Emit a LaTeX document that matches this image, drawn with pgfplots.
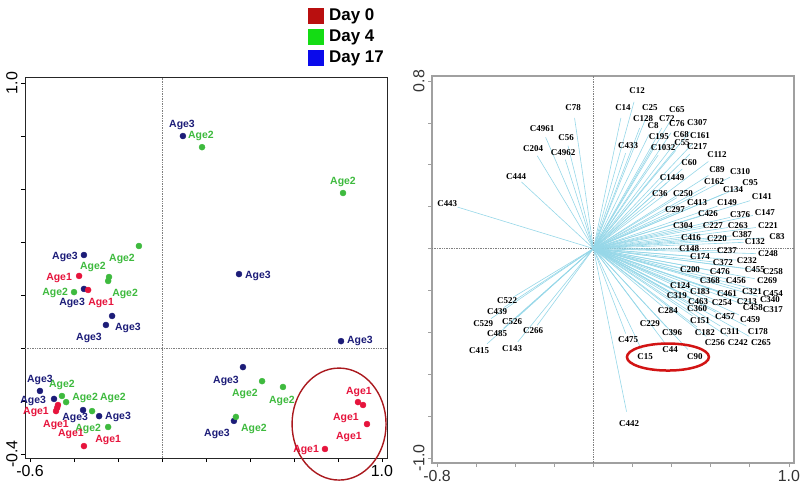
\documentclass[border=0pt]{standalone}
\usepackage{pgfplots}
\pgfplotsset{compat=1.18}
\usepackage{pgfplotstable}
\usepackage{fontspec}
\setmainfont{Liberation Sans}
\newfontfamily\tnr{Liberation Serif}

\definecolor{ptblue}{RGB}{28,28,120}
\definecolor{ptgreen}{RGB}{62,186,62}
\definecolor{ptred}{RGB}{230,20,60}
\definecolor{day0}{RGB}{185,15,15}
\definecolor{day4}{RGB}{20,220,20}
\definecolor{day17}{RGB}{10,10,235}
\definecolor{ellleft}{RGB}{170,25,30}
\definecolor{ellright}{RGB}{210,20,20}
\definecolor{arrowc}{RGB}{150,215,232}
\definecolor{framegray}{RGB}{160,160,160}

\newcommand\agefont{\bfseries\fontsize{10.5}{10.5}\selectfont}
\newcommand\locfont{\tnr\bfseries\fontsize{9}{9}\selectfont}
\newcommand\tickfont{\fontsize{16}{16}\selectfont}

% score plot: points (Age3 blue, Age2 green, Age1 red)
\pgfplotstableread{
x y
0.095 0.800
-0.355 0.351
-0.355 0.223
-0.227 0.121
-0.255 0.087
0.350 0.279
0.814 0.026
0.368 -0.072
0.327 -0.275
-0.555 -0.162
-0.491 -0.192
-0.359 -0.234
-0.286 -0.257
}\bluepts
\pgfplotstableread{
x y
0.182 0.758
0.823 0.585
-0.105 0.385
-0.241 0.268
-0.245 0.253
-0.400 0.211
0.455 -0.125
0.550 -0.147
0.336 -0.260
-0.455 -0.181
-0.436 -0.204
-0.318 -0.238
-0.245 -0.298
}\greenpts
\pgfplotstableread{
x y
-0.377 0.272
-0.336 0.219
0.891 -0.204
0.914 -0.215
0.932 -0.287
0.741 -0.381
-0.473 -0.215
-0.482 -0.238
-0.477 -0.226
-0.355 -0.370
}\redpts

% label positions
\pgfplotstableread{
x y
0.091 0.842
-0.441 0.343
-0.409 0.170
-0.155 0.075
-0.332 0.038
0.436 0.272
0.900 0.026
0.291 -0.125
0.250 -0.325
-0.555 -0.121
-0.586 -0.200
-0.395 -0.264
-0.200 -0.260
}\bluelabs
\pgfplotstableread{
x y
0.177 0.800
0.823 0.626
-0.182 0.336
-0.314 0.306
-0.486 0.208
-0.168 0.204
0.377 -0.174
0.545 -0.200
0.418 -0.306
-0.455 -0.140
-0.350 -0.189
-0.223 -0.189
-0.336 -0.306
}\greenlabs
\pgfplotstableread{
x y
-0.468 0.264
-0.277 0.170
0.895 -0.166
0.836 -0.264
0.850 -0.336
0.655 -0.385
-0.573 -0.242
-0.482 -0.291
-0.414 -0.325
-0.245 -0.347
}\redlabs

% loading plot
\pgfplotstableread{
x y label
-0.104 0.671 C78
-0.263 0.571 C4961
-0.140 0.528 C56
-0.309 0.476 C204
-0.155 0.457 C4962
-0.396 0.342 C444
-0.748 0.213 C443
0.223 0.753 C12
0.151 0.671 C14
0.289 0.671 C25
0.427 0.662 C65
0.254 0.619 C128
0.376 0.619 C72
0.305 0.585 C8
0.427 0.595 C76
0.530 0.600 C307
0.335 0.533 C195
0.448 0.542 C68
0.545 0.538 C161
0.177 0.490 C433
0.356 0.480 C1032
0.453 0.504 C55
0.530 0.485 C217
0.632 0.447 C112
0.489 0.409 C60
0.632 0.375 C89
0.750 0.366 C310
0.402 0.337 C1449
0.617 0.318 C162
0.801 0.313 C95
0.714 0.280 C134
0.340 0.261 C36
0.458 0.261 C250
0.862 0.246 C141
0.530 0.218 C413
0.683 0.218 C149
0.417 0.184 C297
0.586 0.165 C426
0.750 0.160 C376
0.877 0.170 C147
0.458 0.108 C304
0.611 0.108 C227
0.739 0.108 C263
0.893 0.108 C221
0.499 0.051 C416
0.632 0.046 C220
0.760 0.065 C387
0.826 0.032 C132
0.939 0.055 C83
0.489 -0.002 C148
0.683 -0.011 C237
0.545 -0.040 C174
0.893 -0.026 C248
0.662 -0.069 C372
0.785 -0.059 C232
0.494 -0.102 C200
0.647 -0.112 C476
0.826 -0.102 C455
0.918 -0.112 C258
0.596 -0.155 C368
0.729 -0.155 C456
0.888 -0.155 C269
0.443 -0.179 C124
0.545 -0.207 C183
0.683 -0.217 C461
0.811 -0.207 C321
0.918 -0.217 C454
0.427 -0.226 C319
0.535 -0.255 C463
0.657 -0.260 C254
0.785 -0.255 C213
0.903 -0.245 C340
0.381 -0.298 C284
0.530 -0.288 C360
0.816 -0.284 C458
0.918 -0.293 C317
0.545 -0.346 C151
0.673 -0.327 C457
0.801 -0.341 C459
0.289 -0.360 C229
0.402 -0.403 C396
0.570 -0.403 C182
0.698 -0.398 C311
0.841 -0.398 C178
0.177 -0.436 C475
0.621 -0.451 C256
0.739 -0.451 C242
0.857 -0.451 C265
0.264 -0.518 C15
0.392 -0.484 C44
0.519 -0.518 C90
0.182 -0.837 C442
-0.442 -0.250 C522
-0.493 -0.303 C439
-0.564 -0.360 C529
-0.416 -0.351 C526
-0.493 -0.408 C485
-0.309 -0.394 C266
-0.585 -0.489 C415
-0.416 -0.479 C143
}\loadings

\begin{document}
\begin{tikzpicture}
\path[use as bounding box] (0,0) rectangle (800bp,489bp);

% ---- left: scores ----
\begin{axis}[
    at={(25bp,31bp)}, anchor=south west,
    scale only axis, width=362bp, height=380bp,
    xmin=-0.623, xmax=1.023, ymin=-0.415, ymax=1.019,
    clip=false,
    axis line style={draw=black!85, line width=1bp},
    tick style={black, line width=0.8bp},
    tick align=outside, major tick length=4bp, tick pos=left,
    xtick={-0.6,-0.4,-0.2,0,0.2,0.4,0.6,0.8,1.0},
    xticklabels={-0.6,,,,,,,,1.0},
    ytick={-0.4,-0.2,0,0.2,0.4,0.6,0.8,1.0},
    yticklabels={-0.4,,,,,,,1.0},
    tick label style={font=\tickfont},
    yticklabel style={rotate=90, anchor=south},
    legend style={at={(1,1)}, anchor=south east, yshift=8bp, xshift=2bp,
        draw=none, fill=none, font=\bfseries\fontsize{17}{17}\selectfont,
        row sep=2bp, nodes={inner sep=2bp, text height=12bp, text depth=3bp},
        /tikz/every odd column/.append style={column sep=3bp}},
    legend cell align=left,
    legend image code/.code={\fill[#1] (0bp,-8bp) rectangle (16bp,8bp);},
]
\addlegendimage{fill=day0, draw=none}
\addlegendentry{Day 0}
\addlegendimage{fill=day4, draw=none}
\addlegendentry{Day 4}
\addlegendimage{fill=day17, draw=none}
\addlegendentry{Day 17}

\draw[gray, densely dotted, line width=0.7bp] (axis cs:0,-0.415) -- (axis cs:0,1.019);
\draw[gray, densely dotted, line width=0.7bp] (axis cs:-0.623,0) -- (axis cs:1.023,0);

\addplot[only marks, mark=*, mark size=3bp, draw=ptblue, fill=ptblue] table {\bluepts};
\addplot[only marks, mark=*, mark size=3bp, draw=ptgreen, fill=ptgreen] table {\greenpts};
\addplot[only marks, mark=*, mark size=3bp, draw=ptred, fill=ptred] table {\redpts};

\addplot[only marks, mark=none, nodes near coords={Age3},
    every node near coord/.append style={anchor=center, inner sep=0pt, text=ptblue, font=\agefont}] table {\bluelabs};
\addplot[only marks, mark=none, nodes near coords={Age2},
    every node near coord/.append style={anchor=center, inner sep=0pt, text=ptgreen, font=\agefont}] table {\greenlabs};
\addplot[only marks, mark=none, nodes near coords={Age1},
    every node near coord/.append style={anchor=center, inner sep=0pt, text=ptred, font=\agefont}] table {\redlabs};

\draw[ellleft, line width=1.4bp] (axis cs:0.805,-0.287) ellipse [x radius=47bp, y radius=56bp];
\end{axis}

% ---- right: loadings ----
\begin{axis}[
    at={(432bp,26bp)}, anchor=south west,
    scale only axis, width=362bp, height=387bp,
    xmin=-0.826, xmax=1.026, ymin=-1.024, ymax=0.824,
    clip=false,
    axis line style={draw=framegray, line width=2bp},
    tick style={framegray, line width=0.8bp},
    tick align=outside, major tick length=4bp, tick pos=left,
    xtick={-0.8,-0.6,-0.4,-0.2,0,0.2,0.4,0.6,0.8,1.0},
    xticklabels={-0.8,,,,,,,,,1.0},
    ytick={-1.0,-0.8,-0.6,-0.4,-0.2,0,0.2,0.4,0.6,0.8},
    yticklabels={-1.0,,,,,,,,,0.8},
    tick label style={font=\tickfont, text=black!80},
    yticklabel style={rotate=90, anchor=south},
]
\draw[gray, densely dotted, line width=0.7bp] (axis cs:0,-1.024) -- (axis cs:0,0.824);
\draw[gray, densely dotted, line width=0.7bp] (axis cs:-0.826,0) -- (axis cs:1.026,0);

\addplot[quiver={u=\thisrow{x}, v=\thisrow{y}, scale arrows=0.93},
    draw=arrowc, line width=0.6bp, -] table[x expr=0, y expr=0] {\loadings};

\addplot[only marks, mark=none, nodes near coords, point meta=explicit symbolic,
    every node near coord/.append style={anchor=center, inner sep=0pt, text=black, font=\locfont}]
    table[meta=label] {\loadings};

\draw[ellright, line width=2.5bp] (axis cs:0.381,-0.518) ellipse [x radius=41bp, y radius=13.5bp];
\end{axis}
\end{tikzpicture}
\end{document}
